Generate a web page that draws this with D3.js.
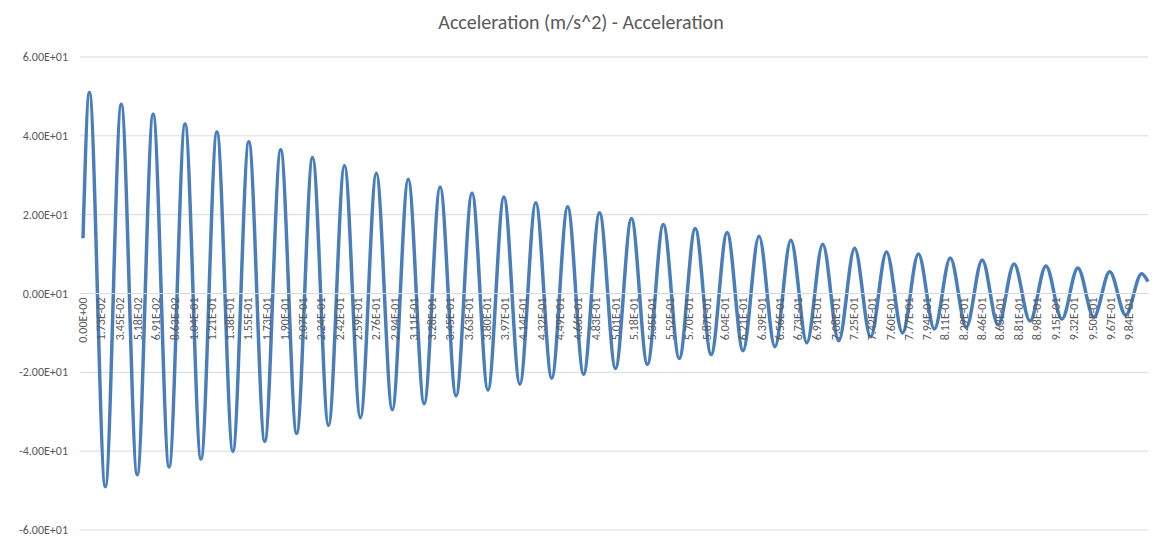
<!DOCTYPE html>
<html>
<head>
<meta charset="utf-8">
<script src="https://cdn.jsdelivr.net/npm/d3@7"></script>
<style>
body{margin:0;background:#fff;font-family:Calibri,Carlito,"Liberation Sans",sans-serif;}
</style>
</head>
<body>
<svg id="chart" width="1162" height="542"></svg>
<script>
// extremes of the trace (time s, value m/s^2)
var times = [0, 0.006,0.021,0.036,0.051,0.066,0.081,0.096,0.111,0.126,0.141,0.156,0.171,0.186,0.201,0.216,0.231,0.246,0.261,0.276,0.291,0.306,0.321,0.336,0.351,0.366,0.381,0.396,0.411,0.426,0.441,0.456,0.471,0.486,0.501,0.516,0.531,0.546,0.561,0.576,0.591,0.606,0.621,0.636,0.651,0.666,0.681,0.696,0.711,0.726,0.741,0.756,0.771,0.786,0.801,0.816,0.831,0.846,0.861,0.876,0.891,0.906,0.921,0.936,0.951,0.966,0.981,0.996,1.002];
var accel = [14, 51,-49,48,-46,45.5,-44,43,-42,41,-40,38.5,-37.5,36.5,-35.5,34.5,-33.5,32.5,-31.5,30.5,-29.5,29,-28,27,-26,25.5,-24.5,24.5,-23,23,-21.5,22,-20.5,20.5,-19,19,-18,17.5,-16.5,16.5,-15.5,15.5,-14.5,14.5,-13.5,13.5,-12.5,12.5,-12,11.5,-11,10.5,-10,10,-9,9,-8.5,8.5,-8,7.5,-7,7,-6.5,6.5,-6,5.5,-5.5,5,3];
var tickLabels = ["0.00E+00","1.73E-02","3.45E-02","5.18E-02","6.91E-02","8.63E-02","1.04E-01","1.21E-01","1.38E-01","1.55E-01","1.73E-01","1.90E-01","2.07E-01","2.24E-01","2.42E-01","2.59E-01","2.76E-01","2.94E-01","3.11E-01","3.28E-01","3.45E-01","3.63E-01","3.80E-01","3.97E-01","4.14E-01","4.32E-01","4.49E-01","4.66E-01","4.83E-01","5.01E-01","5.18E-01","5.35E-01","5.52E-01","5.70E-01","5.87E-01","6.04E-01","6.21E-01","6.39E-01","6.56E-01","6.73E-01","6.91E-01","7.08E-01","7.25E-01","7.42E-01","7.60E-01","7.77E-01","7.94E-01","8.11E-01","8.29E-01","8.46E-01","8.63E-01","8.81E-01","8.98E-01","9.15E-01","9.32E-01","9.50E-01","9.67E-01","9.84E-01"];
var yTicks = [-60,-40,-20,0,20,40,60];

var svg = d3.select("#chart");
var x = d3.scaleLinear().domain([0,1.002]).range([83,1148]);
var y = d3.scaleLinear().domain([-60,60]).range([530,57]);

svg.append("text").attr("x",581).attr("y",29).attr("text-anchor","middle")
  .attr("font-size",20).attr("fill","#595959").text("Acceleration (m/s^2) - Acceleration");

svg.selectAll(".grid").data(yTicks).enter().append("line")
  .attr("x1",80).attr("x2",1148)
  .attr("y1",function(d){return y(d);}).attr("y2",function(d){return y(d);})
  .attr("stroke","#d9d9d9").attr("stroke-width",1);

svg.selectAll(".ylab").data(yTicks).enter().append("text")
  .attr("x",68).attr("y",function(d){return y(d)+4;})
  .attr("text-anchor","end").attr("font-size",12).attr("fill","#595959")
  .text(function(d){return (d<0?"-":"")+(Math.abs(d)/10).toFixed(2)+"E+01";});

var pts = times.map(function(t,i){return [t,accel[i]];});
var line = d3.line().x(function(d){return x(d[0]);}).y(function(d){return y(d[1]);})
  .curve(d3.curveMonotoneX);
svg.append("path").datum(pts).attr("d",line)
  .attr("fill","none").attr("stroke","#4a7ebb").attr("stroke-width",3.5);

svg.append("line").attr("x1",80).attr("x2",1148).attr("y1",y(0)).attr("y2",y(0))
  .attr("stroke","#d9d9d9");

svg.selectAll(".xlab").data(tickLabels).enter().append("text")
  .attr("transform",function(d){return "translate("+(x(+d)+4)+","+(y(0)+4)+") rotate(-90)";})
  .attr("text-anchor","end").attr("font-size",12).attr("fill","#595959")
  .text(function(d){return d;});
</script>
</body>
</html>
